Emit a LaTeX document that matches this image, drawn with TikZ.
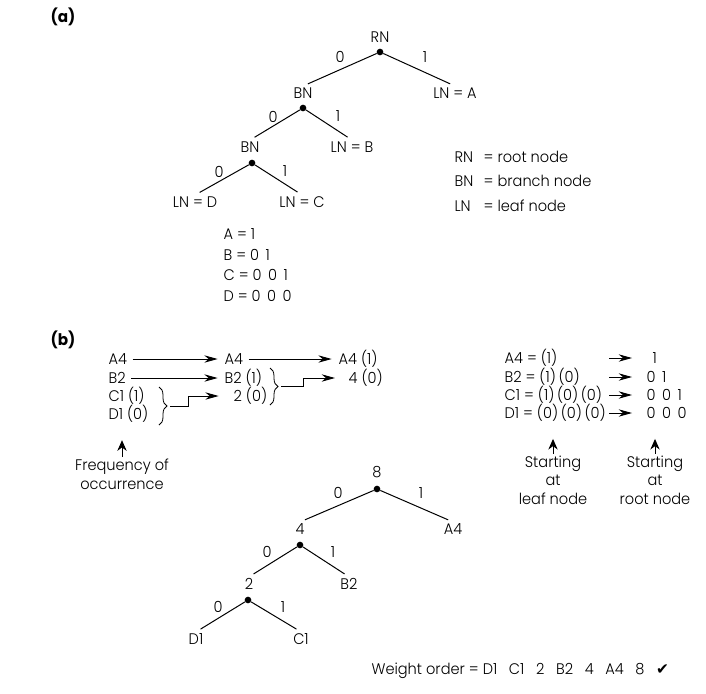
\documentclass[tikz,border=0pt]{standalone}
\usepackage{fontspec}
\IfFontExistsTF{Poppins Light}
  {\setmainfont{Poppins}[UprightFont=* Light,BoldFont=* Bold,FakeStretch=0.95]}
  {\setmainfont{Poppins}[FakeStretch=0.95]}
\newfontfamily\symfont{DejaVu Sans}
\usetikzlibrary{arrows.meta,decorations.pathreplacing}

\begin{document}
\begin{tikzpicture}[x=0.75pt,y=-0.75pt,
    every node/.style={font=\fontsize{11.5}{14}\selectfont,inner sep=1pt},
    tag/.style={font=\fontsize{12}{14}\selectfont\bfseries},
    knot/.style={circle,fill=black,inner sep=0pt,minimum size=5pt},
    edge/.style={line width=0.75pt,shorten >=4pt},
    flow/.style={line width=0.7pt,-{Stealth[length=10pt,width=5.5pt]}},
    hint/.style={line width=0.7pt,-{Stealth[length=8pt,width=7pt]}},
    curly/.style={line width=0.6pt,decorate,decoration={brace,amplitude=6pt}}]
    \useasboundingbox (0,0) rectangle (706,693);

    % (a)
    \node[tag] at (63,17) {(a)};
    \node (rn) at (380,37) {RN};
    \node[knot] (rnd) at (380,52) {};
    \node (bnone) at (303,93) {BN};
    \node (lnA) at (455,93) {LN = A};
    \node[knot] (bnoned) at (303,108) {};
    \node (bntwo) at (250,147) {BN};
    \node (lnB) at (352,147) {LN = B};
    \node[knot] (bntwod) at (252,163) {};
    \node (lnD) at (195,202) {LN = D};
    \node (lnC) at (302,202) {LN = C};
    \draw[edge] (rnd) -- (bnone.north);
    \draw[edge] (rnd) -- (lnA.north);
    \draw[edge] (bnoned) -- (bntwo.north);
    \draw[edge] (bnoned) -- (lnB.north);
    \draw[edge] (bntwod) -- (lnD.north);
    \draw[edge] (bntwod) -- (lnC.north);
    \node at (340,57) {0};
    \node at (425,57) {1};
    \node at (273,117) {0};
    \node at (338,116) {1};
    \node at (219,172) {0};
    \node at (285,171) {1};

    \node[anchor=west] (codeA) at (222,234) {A = 1};
    \node[anchor=west] (codeB) at (222,255) {B = 0\ \,1};
    \node[anchor=west] (codeC) at (222,275) {C = 0\ \,0\ \,1};
    \node[anchor=west] (codeD) at (222,296) {D = 0\ \,0\ \,0};

    \node[anchor=west] (keyRN) at (453,157) {\makebox[1.9em][l]{RN}= root node};
    \node[anchor=west] (keyBN) at (453,181) {\makebox[1.9em][l]{BN}= branch node};
    \node[anchor=west] (keyLN) at (453,206) {\makebox[1.9em][l]{LN}= leaf node};

    % (b)
    \node[tag] at (63,340) {(b)};
    \node[anchor=west] (afour) at (107,359) {A4};
    \node[anchor=west] (btwo) at (107,378) {B2};
    \node[anchor=west] (cone) at (107,396) {C1 (1)};
    \node[anchor=west] (done) at (107,414) {D1 (0)};
    \node[anchor=west] (afourm) at (223,359) {A4};
    \node[anchor=west] (btwom) at (223,378) {B2 (1)};
    \node[anchor=west] (twom) at (232,396) {2 (0)};
    \node[anchor=west] (afourr) at (337,359) {A4 (1)};
    \node[anchor=west] (fourr) at (347,378) {4 (0)};
    \draw[flow,shorten <=3pt,shorten >=4pt] (afour.east) -- (afour.east -| afourm.west);
    \draw[flow,shorten <=3pt,shorten >=4pt] (btwo.east) -- (btwo.east -| btwom.west);
    \draw[flow,shorten <=3pt,shorten >=4pt] (afourm.east) -- (afourm.east -| afourr.west);
    \draw[curly] (159,387) -- (159,425);
    \coordinate (brone) at (170,406);
    \draw[flow,shorten >=10pt] (brone) -- ++(18,0) |- (twom.west);
    \draw[curly] (270,368) -- (270,405);
    \coordinate (brtwo) at (281,386);
    \draw[flow,shorten >=9pt] (brtwo) -- ++(22,0) |- (fourr.west);

    \node[align=center] (freq) at (122,474) {Frequency of\\occurrence};
    \draw[hint] (freq.north) -- ++(0,-17);

    \node[anchor=west] (leafA) at (503,358) {A4 = (1)};
    \node[anchor=west] (leafB) at (503,377) {B2 = (1)\hspace{0.17em}(0)};
    \node[anchor=west] (leafC) at (503,395) {C1 = (1)\hspace{0.17em}(0)\hspace{0.17em}(0)};
    \node[anchor=west] (leafD) at (503,413) {D1 = (0)\hspace{0.17em}(0)\hspace{0.17em}(0)};
    \node[anchor=west] (rootA) at (651,358) {1};
    \node[anchor=west] (rootB) at (645,377) {0\ \,1};
    \node[anchor=west] (rootC) at (645,395) {0\ \,0\ \,1};
    \node[anchor=west] (rootD) at (645,413) {0\ \,0\ \,0};
    \coordinate (tail) at (609,358);
    \coordinate (tip) at (632,358);
    \draw[flow] (tail |- leafA) -- (tip |- leafA);
    \draw[flow] (tail |- leafB) -- (tip |- leafB);
    \draw[flow] (tail |- leafC) -- (tip |- leafC);
    \draw[flow] (tail |- leafD) -- (tip |- leafD);
    \node[align=center] (leafnote) at (553,480) {Starting\\at\\leaf node};
    \node[align=center] (rootnote) at (655,480) {Starting\\at\\root node};
    \draw[hint] (leafnote.north) -- ++(0,-15);
    \draw[hint] (rootnote.north) -- ++(0,-15);

    \node (eight) at (377,472) {8};
    \node[knot] (eightd) at (377,489) {};
    \node (four) at (300,529) {4};
    \node (afourt) at (453,529) {A4};
    \node[knot] (fourd) at (300,545) {};
    \node (two) at (249,584) {2};
    \node (btwot) at (349,584) {B2};
    \node[knot] (twod) at (248,600) {};
    \node (donet) at (196,639) {D1};
    \node (conet) at (301,639) {C1};
    \draw[edge] (eightd) -- (four.north);
    \draw[edge] (eightd) -- (afourt.north);
    \draw[edge] (fourd) -- (two.north);
    \draw[edge] (fourd) -- (btwot.north);
    \draw[edge] (twod) -- (donet.north);
    \draw[edge] (twod) -- (conet.north);
    \node at (338,493) {0};
    \node at (421,493) {1};
    \node at (267,552) {0};
    \node at (333,552) {1};
    \node at (218,607) {0};
    \node at (283,607) {1};

    \node[anchor=west] (order) at (370,671) {Weight order = D1\enspace\ C1\enspace\ 2\enspace\ B2\enspace\ 4\enspace\ A4\enspace\ 8\enspace\ {\symfont ✔}};
\end{tikzpicture}
\end{document}
